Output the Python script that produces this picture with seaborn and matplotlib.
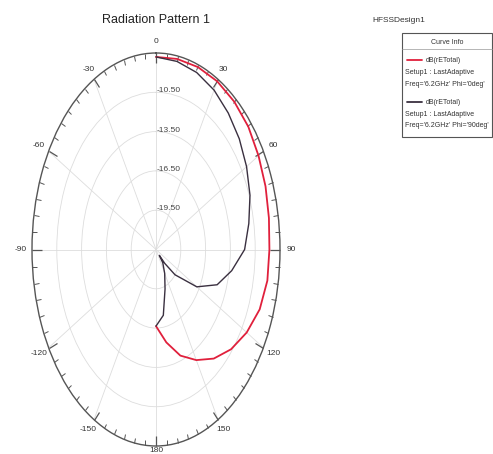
import numpy as np
import matplotlib
matplotlib.use("Agg")
import matplotlib.pyplot as plt
import seaborn as sns
import pandas as pd
from matplotlib.patches import Rectangle
from matplotlib.lines import Line2D

# ---- data ----
theta_phi0 = [0, 10, 20, 30, 40, 50, 60, 70, 80, 90, 100, 110, 120, 130, 140, 150, 160, 170, 180]
db_phi0 = [-7.80, -7.73, -7.68, -7.68, -7.77, -7.92, -8.18, -8.40, -8.63, -8.78, -8.82, -9.15,
           -9.83, -10.65, -11.63, -12.75, -13.88, -15.30, -16.65]

theta_phi90 = [0, 10, 20, 30, 40, 50, 60, 70, 80, 90, 100, 110, 120, 130, 135, 138, 141, 150, 160, 170, 180]
db_phi90 = [-7.80, -7.92, -8.12, -8.45, -8.90, -9.35, -9.85, -10.40, -11.10, -11.78, -13.20, -14.63,
            -16.80, -19.50, -21.00, -21.90, -21.20, -20.40, -19.30, -17.40, -16.65]

r_ticks = [-19.5, -16.5, -13.5, -10.5]
r_tick_labels = ["-19.50", "-16.50", "-13.50", "-10.50"]
theta_ticks = [0, 30, 60, 90, 120, 150, 180, 210, 240, 270, 300, 330]
theta_tick_labels = ["0", "30", "60", "90", "120", "150", "180", "-150", "-120", "-90", "-60", "-30"]
r_min, r_max = -22.5, -7.5

title = "Radiation Pattern 1"
legend_lines = [
    ["dB(rETotal)", "Setup1 : LastAdaptive", "Freq='6.2GHz' Phi='0deg'"],
    ["dB(rETotal)", "Setup1 : LastAdaptive", "Freq='6.2GHz' Phi='90deg'"],
]

RED = "#e0203c"
BLK = "#3a3040"

sns.set_style("white")
plt.rcParams["font.family"] = ["Liberation Sans Narrow", "Liberation Sans", "DejaVu Sans"]

W, H = 493, 454
fig = plt.figure(figsize=(W / 100, H / 100), dpi=100)

def fx(px):
    return px / W

def fy(py):
    return 1 - py / H

ax = fig.add_axes([fx(32), fy(446), (280 - 32) / W, (446 - 53) / H], projection="polar")
ax.set_theta_zero_location("N")
ax.set_theta_direction(-1)

df0 = pd.DataFrame({"theta": np.deg2rad(theta_phi0), "db": db_phi0})
df90 = pd.DataFrame({"theta": np.deg2rad(theta_phi90), "db": db_phi90})
sns.lineplot(data=df0, x="theta", y="db", ax=ax, sort=False, estimator=None, color=RED, lw=1.3)
sns.lineplot(data=df90, x="theta", y="db", ax=ax, sort=False, estimator=None, color=BLK, lw=1.0)

ax.set_aspect("auto")
ax.set_ylim(r_min, r_max)
ax.set_xlabel("")
ax.set_ylabel("")
ax.set_yticks(r_ticks)
ax.set_yticklabels([])
ax.set_xticks(np.deg2rad(theta_ticks))
shown_labels = [("" if t == "180" else t) for t in theta_tick_labels]
ax.set_xticklabels(shown_labels)
ax.set_xticks(np.deg2rad(np.arange(0, 360, 5)), minor=True)
ax.tick_params(axis="x", which="major", bottom=False, top=True, direction="in", length=7,
               width=0.9, color="#555555", pad=1, labelsize=6, labelcolor="#333333")
ax.tick_params(axis="x", which="minor", bottom=False, top=True, direction="in", length=3.5,
               width=0.7, color="#555555")
ax.grid(True, which="major", color="#dddddd", lw=0.6)
ax.spines["polar"].set_color("#555555")
ax.spines["polar"].set_linewidth(1.0)

for r, lab in zip(r_ticks, r_tick_labels):
    ax.text(np.deg2rad(0.6), r + 0.1, lab, ha="left", va="center", fontsize=6, color="#444444")

# "180" label placed just under the bottom of the plot so it stays inside the image
fig.text(fx(156), fy(447), "180", ha="center", va="top", fontsize=6, color="#333333")

fig.text(fx(156), fy(20), title, ha="center", va="center", fontsize=9, color="#222222")

# legend block
fig.text(fx(372), fy(20), "HFSSDesign1", ha="left", va="center", fontsize=6, color="#333333")
fig.patches.append(Rectangle((fx(402), fy(137)), fx(492) - fx(402), fy(33) - fy(137),
                             transform=fig.transFigure, fill=True, facecolor="white",
                             edgecolor="#555555", lw=0.8))
fig.lines.append(Line2D([fx(402), fx(492)], [fy(49), fy(49)], transform=fig.transFigure,
                        color="#999999", lw=0.5))
fig.text(fx(447), fy(42), "Curve Info", ha="center", va="center", fontsize=5, color="#333333")
for i, (lines_txt, col) in enumerate(zip(legend_lines, [RED, BLK])):
    y0 = 60 + i * 42
    fig.lines.append(Line2D([fx(407), fx(422)], [fy(y0), fy(y0)], transform=fig.transFigure,
                            color=col, lw=1.3))
    fig.text(fx(426), fy(y0), lines_txt[0], ha="left", va="center", fontsize=5, color="#333333")
    fig.text(fx(405), fy(y0 + 12), lines_txt[1], ha="left", va="center", fontsize=5, color="#333333")
    fig.text(fx(405), fy(y0 + 24), lines_txt[2], ha="left", va="center", fontsize=5, color="#333333")

fig.savefig("out.png", dpi=100)
